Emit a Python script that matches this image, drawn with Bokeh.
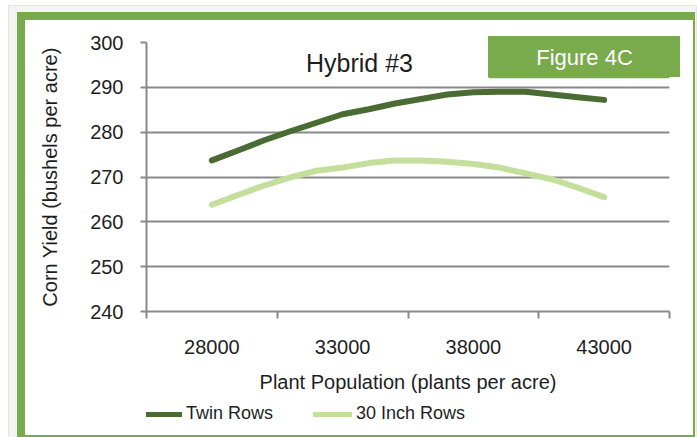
from bokeh.plotting import figure
from bokeh.layouts import column
from bokeh.models import FixedTicker, Range1d, BoxAnnotation, Label, Legend, LegendItem, ColumnDataSource
from bokeh.embed import file_html
from bokeh.resources import INLINE

population = [28000, 29000, 30000, 31000, 32000, 33000, 34000, 35000,
              36000, 37000, 38000, 39000, 40000, 41000, 42000, 43000]
twin_rows = [273.7, 275.9, 278.2, 280.2, 282.1, 284.0, 285.1, 286.4,
             287.4, 288.4, 288.9, 289.0, 289.0, 288.4, 287.8, 287.2]
inch30_rows = [263.8, 266.0, 268.1, 269.9, 271.4, 272.1, 273.1, 273.7,
               273.7, 273.4, 272.9, 272.1, 270.8, 269.5, 267.6, 265.5]
x_labels = [28000, 33000, 38000, 43000]
x_tick_marks = [25500, 30500, 35500, 40500, 45500]
y_ticks = [240, 250, 260, 270, 280, 290, 300]
series_names = ["Twin Rows", "30 Inch Rows"]

FONT = "Liberation Sans"
TXT = "#1e1e1e"
GRID = "#898989"
GREEN = "#79aa4b"
DARK = "#4a6b32"
LIGHT = "#c4df9c"

src = ColumnDataSource(dict(x=population, twin=twin_rows, inch30=inch30_rows))

p = figure(width=697, height=395, output_backend="svg", toolbar_location=None,
           x_range=Range1d(25500, 45500), y_range=Range1d(240, 300),
           min_border_left=146, min_border_right=28, min_border_top=42,
           min_border_bottom=80)
p.border_fill_alpha = 0
p.background_fill_alpha = 0
p.outline_line_color = None

r1 = p.line("x", "twin", source=src, line_color=DARK, line_width=6, line_cap="round", line_join="round")
r2 = p.line("x", "inch30", source=src, line_color=LIGHT, line_width=6, line_cap="round", line_join="round")

p.xgrid.visible = False
p.ygrid.ticker = FixedTicker(ticks=y_ticks)
p.ygrid.grid_line_color = GRID
p.ygrid.grid_line_width = 2

ya = p.yaxis[0]
ya.ticker = FixedTicker(ticks=y_ticks)
ya.axis_line_color = GRID
ya.axis_line_width = 2
ya.major_tick_line_color = GRID
ya.major_tick_line_width = 2
ya.major_tick_out = 6
ya.major_tick_in = 0
ya.minor_tick_line_color = None
ya.major_label_standoff = 17
ya.major_label_text_font = FONT
ya.major_label_text_font_size = "20px"
ya.major_label_text_color = TXT
ya.axis_label = "Corn Yield (bushels per acre)"
ya.axis_label_text_font = FONT
ya.axis_label_text_font_size = "20px"
ya.axis_label_text_font_style = "normal"
ya.axis_label_text_color = TXT
ya.axis_label_standoff = 26

xa = p.xaxis[0]
xa.ticker = FixedTicker(ticks=x_labels, minor_ticks=x_tick_marks)
xa.axis_line_color = GRID
xa.axis_line_width = 2
xa.major_tick_line_color = None
xa.major_tick_out = 7
xa.major_tick_in = 0
xa.minor_tick_line_color = GRID
xa.minor_tick_line_width = 2
xa.minor_tick_out = 7
xa.minor_tick_in = 0
xa.major_label_standoff = 21
xa.major_label_text_font = FONT
xa.major_label_text_font_size = "20px"
xa.major_label_text_color = TXT
xa.axis_label = "Plant Population (plants per acre)"
xa.axis_label_text_font = FONT
xa.axis_label_text_font_size = "20px"
xa.axis_label_text_font_style = "normal"
xa.axis_label_text_color = TXT
xa.axis_label_standoff = 14

p.add_layout(Label(x=33645, y=295.5, text="Hybrid #3", text_align="center", text_baseline="middle",
                   text_font=FONT, text_font_size="25px", text_color=TXT))

p.add_layout(BoxAnnotation(left=38578, right=45500, top=300.5, bottom=292.05,
                           fill_color=GREEN, fill_alpha=1, line_color=None))
p.add_layout(Label(x=42250, y=296.6, text="Figure 4C", text_align="center", text_baseline="middle",
                   text_font=FONT, text_font_size="22px", text_color="white"))

# legend strip below the chart (its own lines sit outside its visible range;
# its frame is aligned with the chart's frame, so offsets are relative to x=146)
q = figure(width=697, height=42, output_backend="svg", toolbar_location=None,
           x_axis_location=None, y_axis_location=None,
           x_range=Range1d(0, 1), y_range=Range1d(0, 1),
           min_border_left=0, min_border_right=0, min_border_top=0, min_border_bottom=0)
q.grid.visible = False
q.border_fill_alpha = 0
q.background_fill_alpha = 0
q.outline_line_color = None
l1 = q.line("x", "twin", source=src, line_color=DARK, line_width=5, line_cap="round")
l2 = q.line("x", "inch30", source=src, line_color=LIGHT, line_width=5, line_cap="round")
legend = Legend(items=[LegendItem(label=series_names[0], renderers=[l1]),
                       LegendItem(label=series_names[1], renderers=[l2])],
                orientation="horizontal", location=(-3, 13),
                glyph_width=39, glyph_height=20, label_height=20, label_standoff=4,
                spacing=40, padding=0, margin=0,
                label_text_font=FONT, label_text_font_size="18px", label_text_color=TXT,
                border_line_color=None, background_fill_alpha=0)
q.add_layout(legend, "center")

layout = column(p, q, spacing=0)
layout.styles = {
    "background": (
        f"linear-gradient({GREEN},{GREEN}) 488px 36px / 192px 41px no-repeat, "
        "linear-gradient(#ffffff,#ffffff) 25px 20px / 668px 415px no-repeat, "
        f"linear-gradient({GREEN},{GREEN}) 17px 12px / 678px 425px no-repeat, "
        "linear-gradient(#f4f5f3,#f4f5f3) 9px 6px / 687px 431px no-repeat, "
        "linear-gradient(#e4e6e3,#e4e6e3) 8px 5px / 689px 432px no-repeat, "
        "#ffffff"
    )
}

open("out.html", "w").write(file_html(layout, INLINE))
